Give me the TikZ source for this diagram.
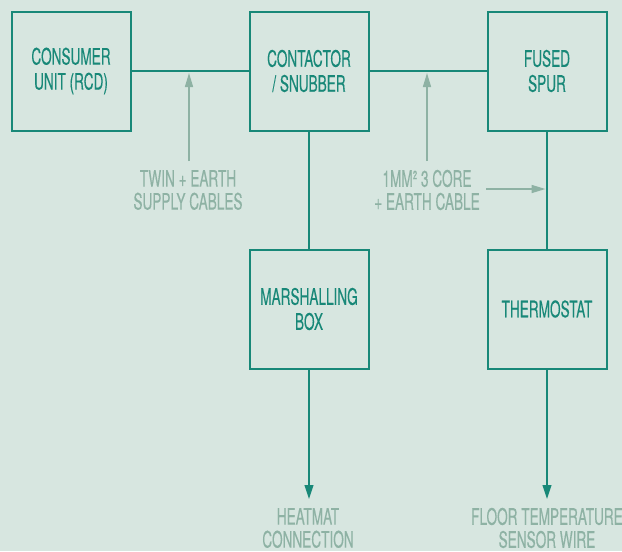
\documentclass[tikz,border=0pt]{standalone}
\usepackage{fontspec}
\setmainfont{TeX Gyre Heros}[FakeStretch=0.6,FakeBold=0.25]
\usetikzlibrary{arrows.meta}
\definecolor{bg}{RGB}{215,230,224}
\definecolor{tealc}{RGB}{24,136,120}
\definecolor{greyc}{RGB}{142,178,164}
\tikzset{
  box/.style={draw=tealc, line width=1.5pt, minimum width=89.25pt, minimum height=89.25pt,
    inner sep=0pt, text=tealc, align=center, font=\fontsize{17}{18.75}\selectfont},
  lbl/.style={text=greyc, align=center, inner sep=0pt, font=\fontsize{17}{17.25}\selectfont},
  tline/.style={draw=tealc, line width=1.5pt},
  tarrow/.style={draw=tealc, line width=1.5pt, -{Triangle[length=10.5pt,width=6.5pt]}},
  garrow/.style={draw=greyc, line width=1.15pt, -{Triangle[length=10.5pt,width=6pt]}}
}
\begin{document}
\begin{tikzpicture}[x=0.75pt,y=-0.75pt]
\fill[bg] (0,0) rectangle (622,551);
\useasboundingbox (0,0) rectangle (622,551);
\clip (0,0) rectangle (622,551);
\node[box] (cu) at (71,71) {CONSUMER\\UNIT (RCD)};
\node[box] (cs) at (309,71) {CONTACTOR\\/ SNUBBER};
\node[box] (fs) at (547,71) {FUSED\\SPUR};
\node[box] (mb) at (309,309) {MARSHALLING\\BOX};
\node[box] (th) at (547,309) {THERMOSTAT};
\draw[tline] (cu) -- (cs);
\draw[tline] (cs) -- (fs);
\draw[tline] (cs) -- (mb);
\draw[tline] (fs) -- (th);
\node[lbl] (twin) at (188,190) {TWIN + EARTH\\SUPPLY CABLES};
\node[lbl] (core) at (427,190) {1MM² 3 CORE\\+ EARTH CABLE};
\node[lbl] (heat) at (308,528) {HEATMAT\\CONNECTION};
\node[lbl] (floor) at (547,528) {FLOOR TEMPERATURE\\SENSOR WIRE};
\coordinate (a1s) at (189,161); \coordinate (a1e) at (189,73);
\coordinate (a2s) at (427,161); \coordinate (a2e) at (427,73);
\coordinate (a3s) at (486,189); \coordinate (a3e) at (545.5,189);
\coordinate (hmtip) at (309,499);
\coordinate (fltip) at (547,499);
\draw[garrow] (a1s) -- (a1e);
\draw[garrow] (a2s) -- (a2e);
\draw[garrow] (a3s) -- (a3e);
\draw[tarrow] (mb) -- (hmtip);
\draw[tarrow] (th) -- (fltip);
\end{tikzpicture}
\end{document}
